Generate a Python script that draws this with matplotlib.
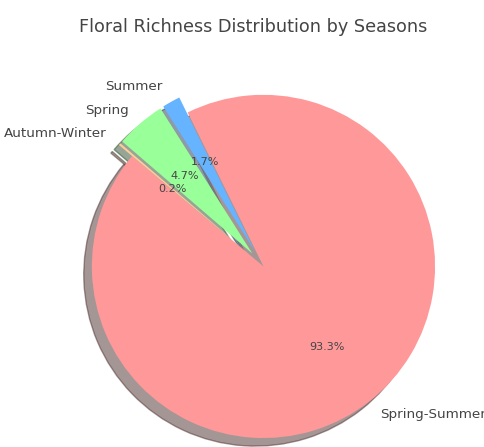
import matplotlib
matplotlib.use("Agg")
from matplotlib import pyplot as plt

# data
seasons = ["Spring-Summer", "Summer", "Spring", "Autumn-Winter"]
shares = [93.3, 1.7, 4.7, 0.2]
explode = [0, 0.1, 0.1, 0.1]
colors = ["#ff9999", "#66b3ff", "#99ff99", "#ffcc99"]

textColor = "#444444"
total = sum(shares)

fig = plt.figure(figsize=(4.85, 4.47), dpi=100)
ax = fig.add_axes([0.101, -0.076, 0.8845, 0.96])

# autopct shows the share values themselves (they add up to 99.9)
wedges, texts, autotexts = ax.pie(
    shares,
    labels=seasons,
    explode=explode,
    colors=colors,
    autopct=lambda p: f"{p * total / 100:.1f}%",
    startangle=140,
    shadow={"ox": -0.034, "oy": -0.034},
    textprops={"color": textColor},
)
for t in texts:
    t.set_fontsize(9.7)
for t in autotexts:
    t.set_fontsize(8)

ax.set_aspect("equal")
ax.set_title("Floral Richness Distribution by Seasons", fontsize=12.7,
             color=textColor, pad=14, x=0.477)

fig.savefig("out.png", dpi=100)
